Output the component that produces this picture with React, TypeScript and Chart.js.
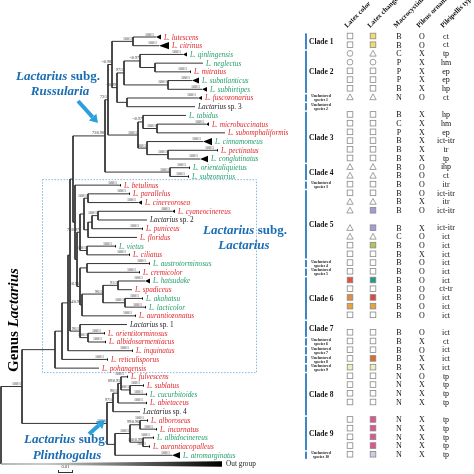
import React, { useEffect, useRef } from "react";
import { Chart, registerables } from "chart.js";
Chart.register(...registerables);

const SERIF = '"Liberation Serif", "Times New Roman", serif';

// ---- Leaves (top to bottom) ----
const LEAF_NAMES = [
  "L. lutescens", "L. citrinus", "L. qinlingensis", "L. neglectus", "L. mitratus", "L. subatlanticus", "L. subhirtipes", "L. fuscozonarius", "Lactarius sp. 3", "L. tabidus",
  "L. microbuccinatus", "L. subomphaliformis", "L. cinnamomeus", "L. pectinatus", "L. conglutinatus", "L. orientaliquietus", "L. subzonarius", "L. betulinus", "L. parallelus", "L. cinereorosea",
  "L. cyaneocinereus", "Lactarius sp. 2", "L. puniceus", "L. floridus", "L. vietus", "L. ciliatus", "L. austrotorminosus", "L. cremicolor", "L. hatsudake", "L. spadiceus",
  "L. akahatsu", "L. lacticolor", "L. aurantiozonatus", "Lactarius sp. 1", "L. orientitorminosus", "L. albidosarmentiacus", "L. inquinatus", "L. reticulisporus", "L. pohangensis", "L. fulvescens",
  "L. sublatus", "L. cucurbitoides", "L. abietaceus", "Lactarius sp. 4", "L. alboroseus", "L. incarnatus", "L. albidocinereus", "L. aurantiacopalleus", "L. atromarginatus", "Out group",
];
// r = red, g = green, k = black
const LEAF_COLOR_CODES = "rrggrggrkg" + "rrgrgggrrr" + "rkrrgrgrgr" + "ggrkrrrrrr" + "rgrkrrgrgk";
// tip depth (branch-length units, 15 units = 0.01 substitutions/site)
const TIP_DEPTH = [
  156, 159, 183, 203, 189, 192, 202, 198, 195, 186,
  206, 225, 203, 216, 200, 188, 187, 119, 128, 138,
  172, 147, 141, 137, 114, 128, 148, 138, 145, 132,
  141, 144, 134, 127, 103, 104, 131, 106, 99, 126,
  142, 145, 145, 140, 146, 155, 152, 148, 172, 222,
];
// collapsed-clade wedge length (same units), 0 = none
const WEDGE = [
  5, 10, 4, 0, 2, 7, 5, 4, 0, 0,
  3, 0, 9, 2, 8, 2, 2, 2, 2, 4,
  3, 0, 2, 0, 2, 2, 2, 2, 5, 0,
  2, 2, 2, 0, 2, 2, 2, 2, 0, 2,
  2, 2, 2, 0, 2, 2, 2, 2, 8, 0,
];

// ---- Tree topology: [node depth, support, ...children]; numbers = leaf index ----
type TNode = number | any[];
const TREE: TNode = [1, "",
  [22, "100/1",
    [55, "",
      [62, "",
        [68, "",
          [70, "",
            [73, "",
              [105, "73/0.98",
                [108, "73/1",
                  [112, "-/0.98",
                    [133, "100/1", 0, 1],
                    [117, "-/0.99",
                      [124, "97/1",
                        [140, "-/0.97", 2, [155, "", 3, 4]],
                        [168, "100/1", 5, 6]],
                      [127, "", 7, 8]]],
                  [138, "100/1",
                    [143, "-/0.97", 9, [157, "100/1", 10, 11]],
                    [147, "100/1", 12, [168, "100/1", 13, 14]]]],
                [170, "100/1", 15, 16]],
              [75, "", 17,
                [77, "",
                  [80, "71/0.97",
                    [84, "",
                      [88, "100/1", 18, 19],
                      [88, "", [92, "", [98, "100/1", 20, 21], 22], 23]],
                    [87, "100/1", 24, 25]],
                  [80, "-/0.95",
                    [87, "", 26, 27],
                    [82, "94/0.99",
                      [103, "96/1", [118, "91/1", 28, 29], [125, "100/1", 30, 31]],
                      32]]]]],
            [80, "96/1", 33, [88, "100/1", 34, 35]]],
          36],
        37],
      38],
    [107, "100/1",
      [113, "97/1",
        [118, "96/1",
          [121, "89/0.95", 39, [130, "100/1", 40, 41]],
          42],
        43],
      [115, "",
        [130, "100/1",
          [140, "99/0.96", 44, 45],
          [143, "100/0.99", 46, 47]],
        48]]],
  49];

// ---- Character table (one row per leaf, null = no data) ----
const LATEX_COLOR = [
  "s", "s", "c", "c", "s", "s", "s", "t", null, "s",
  "s", "s", "s", "s", "s", "t", "t", "s", "s", "t",
  "t", null, "t", "t", "s", "s", "s", "s", "#e2553b", "s",
  "#e8893c", "#eba23a", "s", null, "s", "s", "s", "s", "#eef0bb", "s",
  "s", "s", "s", null, "s", "s", "s", "s", "s",
];
const LATEX_CHANGE = [
  "#f2dd6a", "#f2dd6a", "t", "c", "s", "s", "s", "t", null, "s",
  "s", "s", "s", "s", "s", "t", "t", "s", "s", "t",
  "#a89ad6", null, "#a89ad6", "t", "#b8c257", "s", "s", "s", "#1f9a8c", "s",
  "#e0483e", "#eba23a", "s", null, "s", "s", "s", "#d8702a", "#eef0bb", "s",
  "s", "s", "s", null, "#e2548c", "#e2548c", "#e2548c", "#e2548c", "#cfcbea",
];
const MACROCYSTIDIA = [
  "B", "B", "C", "P", "P", "P", "B", "N", null, "B",
  "C", "P", "B", "B", "B", "B", "B", "B", "B", "B",
  "B", null, "B", "C", "B", "B", "B", "B", "B", "B",
  "B", "B", "B", null, "B", "B", "B", "B", "B", "N",
  "N", "N", "N", null, "N", "N", "N", "N", "N",
];
const PILEUS = [
  "O", "O", "X", "X", "X", "X", "X", "O", null, "X",
  "X", "X", "X", "X", "X", "O", "O", "O", "O", "X",
  "O", null, "X", "O", "O", "X", "O", "O", "O", "O",
  "O", "O", "O", null, "O", "X", "O", "X", "X", "O",
  "X", "X", "X", null, "X", "X", "X", "X", "X",
];
const PILEIPELLIS = [
  "ct", "ct", "tp", "hm", "ep", "ep", "hp", "ct", null, "hp",
  "hm", "ep", "ict-itr", "tr", "tp", "ihp", "ct", "itr", "ict-itr", "itr",
  "ict-itr", null, "ict-itr", "ict", "ict", "ict", "ict", "ict", "ict", "ct-tr",
  "ict", "ict", "ict", null, "ict", "ct", "ict", "ict", "ict", "tp",
  "tp", "tp", "tp", null, "tp", "tp", "tp", "tp", "tp",
];
const HEADERS = ["Latex color", "Latex change", "Macrocystidia", "Pileus ornamentation", "Pileipellis type"];
const GROUPS: [string, number, number][] = [
  ["Clade 1", 0, 1], ["Clade 2", 2, 6], ["Unclustered species 1", 7, 7], ["Unclustered species 2", 8, 8],
  ["Clade 3", 9, 14], ["Clade 4", 15, 16], ["Unclustered species 3", 17, 17], ["Clade 5", 18, 25],
  ["Unclustered species 4", 26, 26], ["Unclustered species 5", 27, 27], ["Clade 6", 28, 32], ["Clade 7", 33, 34],
  ["Unclustered species 6", 35, 35], ["Unclustered species 7", 36, 36], ["Unclustered species 8", 37, 37],
  ["Unclustered species 9", 38, 38], ["Clade 8", 39, 43], ["Clade 9", 44, 47], ["Unclustered species 10", 48, 48],
];

const RED = "#e3262b";
const GREEN = "#24a06c";
const BLUE_TXT = "#1b6db4";
const BLUE_ARROW = "#2aa0df";
const BAR_BLUE = "#3f86c8";
const COL_X = [350, 373, 399, 422, 446];

// ---- layout of the tree ----
type Seg = [number, number, number, number];
function layoutTree() {
  const segs: Seg[] = [];
  const sups: [number, number, string][] = [];
  const walk = (node: TNode, parentX: number | null): number => {
    if (typeof node === "number") {
      if (parentX !== null) segs.push([parentX, node, TIP_DEPTH[node], node]);
      return node;
    }
    const [x, sup, ...kids] = node as any[];
    const ys = kids.map((k: TNode) => walk(k, x));
    const y = (ys[0] + ys[ys.length - 1]) / 2;
    segs.push([x, ys[0], x, ys[ys.length - 1]]);
    if (parentX !== null) segs.push([parentX, y, x, y]);
    if (sup) sups.push([x, y, sup]);
    return y;
  };
  walk(TREE, null);
  return { segs, sups };
}

function drawRuns(ctx: CanvasRenderingContext2D, parts: [string, string][], x: number, y: number, align: "left" | "center") {
  let w = 0;
  parts.forEach(([t, f]) => { ctx.font = f; w += ctx.measureText(t).width; });
  let cx = align === "center" ? x - w / 2 : x;
  ctx.textAlign = "left";
  parts.forEach(([t, f]) => { ctx.font = f; ctx.fillText(t, cx, y); cx += ctx.measureText(t).width; });
}

function arrow(ctx: CanvasRenderingContext2D, x1: number, y1: number, x2: number, y2: number) {
  const ang = Math.atan2(y2 - y1, x2 - x1);
  const head = 8;
  const bx = x2 - Math.cos(ang) * head, by = y2 - Math.sin(ang) * head;
  ctx.strokeStyle = BLUE_ARROW; ctx.fillStyle = BLUE_ARROW; ctx.lineWidth = 4; ctx.lineCap = "butt";
  ctx.beginPath(); ctx.moveTo(x1, y1); ctx.lineTo(bx, by); ctx.stroke();
  ctx.beginPath();
  ctx.moveTo(x2, y2);
  ctx.lineTo(bx + Math.cos(ang + Math.PI / 2) * 5, by + Math.sin(ang + Math.PI / 2) * 5);
  ctx.lineTo(bx - Math.cos(ang + Math.PI / 2) * 5, by - Math.sin(ang + Math.PI / 2) * 5);
  ctx.closePath(); ctx.fill();
}

const { segs, sups } = layoutTree();

const overlay = {
  id: "phyloOverlay",
  beforeDatasetsDraw(chart: any) {
    const ctx: CanvasRenderingContext2D = chart.ctx;
    const X = (v: number) => chart.scales.x.getPixelForValue(v);
    const Y = (v: number) => chart.scales.y.getPixelForValue(v);
    ctx.save();
    ctx.setLineDash([1.5, 1.5]);
    ctx.strokeStyle = "#86b9de";
    ctx.lineWidth = 1;
    const top = Y(17) - 5.5, bot = Y(38) + 4.5;
    ctx.strokeRect(X(42) + 0.5, top, X(256) - X(42), bot - top);
    ctx.restore();
  },
  afterDatasetsDraw(chart: any) {
    const ctx: CanvasRenderingContext2D = chart.ctx;
    const X = (v: number) => chart.scales.x.getPixelForValue(v);
    const Y = (v: number) => chart.scales.y.getPixelForValue(v);
    ctx.save();
    ctx.textBaseline = "alphabetic";

    // outgroup wedge
    const oy = Y(49);
    const g = ctx.createLinearGradient(X(40), 0, X(222), 0);
    g.addColorStop(0, "#d0d0d0"); g.addColorStop(1, "#000");
    ctx.fillStyle = g;
    ctx.beginPath();
    ctx.moveTo(X(1), oy - 0.5); ctx.lineTo(X(222), oy - 2.8); ctx.lineTo(X(222), oy + 2.8); ctx.lineTo(X(1), oy + 0.5);
    ctx.closePath(); ctx.fill();

    // collapsed wedges + leaf labels + leaf supports
    LEAF_NAMES.forEach((name, i) => {
      const y = Y(i);
      const tip = TIP_DEPTH[i];
      const w = WEDGE[i];
      if (w > 0) {
        const h = Math.min(3.6, 0.9 + w * 0.3);
        ctx.fillStyle = "#000";
        ctx.beginPath(); ctx.moveTo(X(tip), y); ctx.lineTo(X(tip + w), y - h); ctx.lineTo(X(tip + w), y + h); ctx.closePath(); ctx.fill();
        ctx.font = `4px ${SERIF}`; ctx.fillStyle = "#333"; ctx.textAlign = "right";
        ctx.fillText("100/1", X(tip) - 2, y - 1.5);
      }
      const code = LEAF_COLOR_CODES[i];
      ctx.fillStyle = code === "r" ? RED : code === "g" ? GREEN : "#222";
      const lx = X(tip + w) + 3;
      const ly = y + 2.5;
      const fs = "7.3px";
      if (name.startsWith("Lactarius sp.")) {
        drawRuns(ctx, [["Lactarius ", `italic ${fs} ${SERIF}`], [name.slice(10), `${fs} ${SERIF}`]], lx, ly, "left");
      } else if (name === "Out group") {
        drawRuns(ctx, [[name, `${fs} ${SERIF}`]], lx + 1, ly, "left");
      } else {
        drawRuns(ctx, [[name, `italic ${fs} ${SERIF}`]], lx, ly, "left");
      }
    });

    // internal node supports
    ctx.font = `4px ${SERIF}`; ctx.fillStyle = "#333"; ctx.textAlign = "right";
    sups.forEach(([x, y, s]) => ctx.fillText(s, X(x) - 1, Y(y) - 1.5));

    // scale bar
    ctx.strokeStyle = "#333"; ctx.lineWidth = 1;
    ctx.beginPath();
    ctx.moveTo(X(58), 472.5); ctx.lineTo(X(73), 472.5);
    ctx.moveTo(X(58) + 0.5, 470); ctx.lineTo(X(58) + 0.5, 473);
    ctx.moveTo(X(73) - 0.5, 470); ctx.lineTo(X(73) - 0.5, 473);
    ctx.stroke();
    ctx.font = `4.5px ${SERIF}`; ctx.fillStyle = "#333"; ctx.textAlign = "center";
    ctx.fillText("0.01", X(65.5), 468);

    // subgenus labels
    ctx.fillStyle = BLUE_TXT;
    const bi = `italic bold 13px ${SERIF}`, bn = `bold 13px ${SERIF}`;
    drawRuns(ctx, [["Lactarius", bi], [" subg.", bn]], 58, 80, "center");
    drawRuns(ctx, [["Russularia", bi]], 60, 95, "center");
    drawRuns(ctx, [["Lactarius", bi], [" subg.", bn]], 245, 234, "center");
    drawRuns(ctx, [["Lactarius", bi]], 244, 249, "center");
    drawRuns(ctx, [["Lactarius", bi], [" subg.", bn]], 66, 443, "center");
    drawRuns(ctx, [["Plinthogalus", bi]], 67, 459, "center");
    arrow(ctx, 78, 101, 98, 123);
    arrow(ctx, 89, 434, 105, 420);

    // genus label
    ctx.save();
    ctx.translate(18, 320);
    ctx.rotate(-Math.PI / 2);
    ctx.fillStyle = "#000";
    drawRuns(ctx, [["Genus ", `bold 15px ${SERIF}`], ["Lactarius", `italic bold 15px ${SERIF}`]], 0, 0, "center");
    ctx.restore();

    // clade bars and labels
    GROUPS.forEach(([label, a, b]) => {
      const y1 = Y(a) - 3.6, y2 = Y(b) + 3.6;
      ctx.fillStyle = BAR_BLUE;
      ctx.fillRect(305, y1, 2, y2 - y1);
      const cy = (Y(a) + Y(b)) / 2;
      ctx.fillStyle = "#111";
      if (label.startsWith("Clade")) {
        ctx.font = `bold 7.5px ${SERIF}`; ctx.textAlign = "left";
        ctx.fillText(label, 309, cy + 2.5);
      } else {
        ctx.font = `bold 3.8px ${SERIF}`; ctx.textAlign = "center";
        ctx.fillText("Unclustered", 321, cy - 0.8);
        ctx.fillText(label.replace("Unclustered ", ""), 321, cy + 3.2);
      }
    });

    // table
    const symbol = (code: string | null, cx: number, cy: number) => {
      if (!code) return;
      ctx.lineWidth = 0.8; ctx.strokeStyle = "#888";
      if (code === "s") {
        ctx.fillStyle = "#fff";
        ctx.fillRect(cx - 2.8, cy - 2.8, 5.6, 5.6); ctx.strokeRect(cx - 2.8, cy - 2.8, 5.6, 5.6);
      } else if (code === "c") {
        ctx.beginPath(); ctx.arc(cx, cy, 2.9, 0, Math.PI * 2); ctx.stroke();
      } else if (code === "t") {
        ctx.beginPath(); ctx.moveTo(cx, cy - 3.1); ctx.lineTo(cx - 3.2, cy + 2.7); ctx.lineTo(cx + 3.2, cy + 2.7); ctx.closePath(); ctx.stroke();
      } else {
        ctx.fillStyle = code;
        ctx.fillRect(cx - 2.8, cy - 2.8, 5.6, 5.6); ctx.strokeRect(cx - 2.8, cy - 2.8, 5.6, 5.6);
      }
    };
    LATEX_COLOR.forEach((code, i) => {
      const cy = Y(i) - 1;
      symbol(code, COL_X[0], cy);
      symbol(LATEX_CHANGE[i], COL_X[1], cy);
      ctx.fillStyle = "#111"; ctx.textAlign = "center"; ctx.font = `8px ${SERIF}`;
      if (MACROCYSTIDIA[i]) ctx.fillText(MACROCYSTIDIA[i] as string, COL_X[2], cy + 2.9);
      if (PILEUS[i]) ctx.fillText(PILEUS[i] as string, COL_X[3], cy + 2.9);
      if (PILEIPELLIS[i]) ctx.fillText(PILEIPELLIS[i] as string, COL_X[4], cy + 2.7);
    });

    // rotated headers
    ctx.fillStyle = "#111"; ctx.font = `bold 7px ${SERIF}`; ctx.textAlign = "left";
    HEADERS.forEach((h, k) => {
      ctx.save();
      ctx.translate(COL_X[k] - 3, 28);
      ctx.rotate(-Math.PI / 4);
      ctx.fillText(h, 0, 0);
      ctx.restore();
    });

    ctx.restore();
  },
};

export default function App() {
  const ref = useRef<HTMLCanvasElement>(null);
  useEffect(() => {
    if (!ref.current) return;
    const pts: any[] = [];
    segs.forEach(([x1, y1, x2, y2]) => {
      pts.push({ x: x1, y: y1 }, { x: x2, y: y2 }, { x: x2, y: null });
    });
    const chart = new Chart(ref.current, {
      type: "scatter",
      data: {
        datasets: [{
          data: pts,
          showLine: true,
          spanGaps: false,
          borderColor: "#333",
          borderWidth: 1,
          pointRadius: 0,
          pointHoverRadius: 0,
        }],
      },
      options: {
        animation: false,
        responsive: false,
        devicePixelRatio: 1,
        layout: { padding: 0 },
        plugins: { legend: { display: false }, tooltip: { enabled: false } },
        events: [],
        scales: {
          x: { type: "linear", min: 0, max: 474, display: false },
          y: { type: "linear", min: -37 / 8.714, max: (474 - 37) / 8.714, reverse: true, display: false },
        },
      },
      plugins: [overlay],
    });
    return () => chart.destroy();
  }, []);
  return (
    <div style={{ position: "absolute", left: 0, top: 0, width: 474, height: 474, background: "#fff" }}>
      <canvas ref={ref} width={474} height={474} style={{ width: 474, height: 474 }} />
    </div>
  );
}
